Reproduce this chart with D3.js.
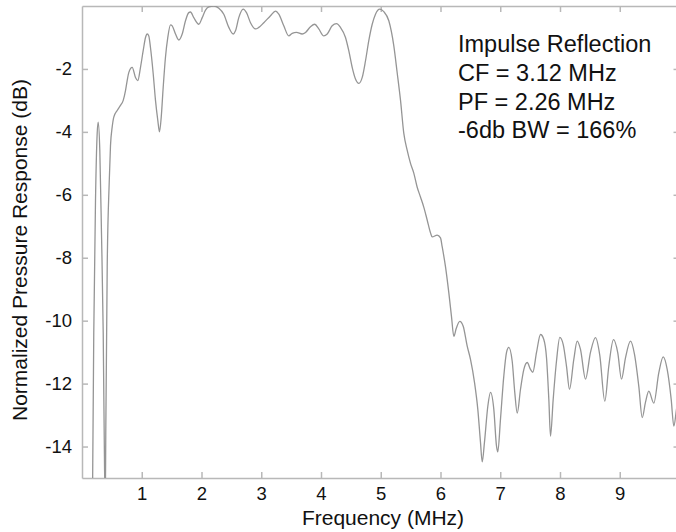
<!DOCTYPE html>
<html>
<head>
<meta charset="utf-8">
<script src="https://cdn.jsdelivr.net/npm/d3@7"></script>
<style>
  body { margin: 0; background: #fff; }
  svg { display: block; font-family: "Liberation Sans", Arial, sans-serif; }
  .axis path, .axis line { stroke: #b8b8b8; stroke-width: 1.5; }
  .axis text { fill: #111; font-size: 18.5px; font-family: "Liberation Sans", Arial, sans-serif; }
</style>
</head>
<body>
<div id="chart"></div>
<script>
// frequency (MHz) and normalized response (dB)
const freq = [0.175, 0.197, 0.226, 0.254, 0.271, 0.298, 0.326, 0.355, 0.377, 0.39, 0.398, 0.422, 0.455, 0.477,
  0.505, 0.532, 0.589, 0.644, 0.690, 0.728, 0.756, 0.784, 0.840, 0.895, 0.934, 0.979, 1.024, 1.063, 1.091, 1.118,
  1.146, 1.192, 1.230, 1.269, 1.297, 1.326, 1.359, 1.397, 1.436, 1.481, 1.510, 1.565, 1.620, 1.677, 1.732, 1.787,
  1.816, 1.871, 1.955, 2.012, 2.067, 2.122, 2.206, 2.290, 2.373, 2.457, 2.531, 2.569, 2.624, 2.698, 2.753, 2.820,
  2.904, 2.959, 3.043, 3.155, 3.238, 3.294, 3.377, 3.461, 3.518, 3.590, 3.685, 3.741, 3.824, 3.896, 3.963, 4.047,
  4.104, 4.187, 4.259, 4.326, 4.410, 4.465, 4.522, 4.577, 4.633, 4.690, 4.745, 4.800, 4.857, 4.912, 4.984, 5.051,
  5.135, 5.218, 5.275, 5.331, 5.386, 5.443, 5.498, 5.553, 5.610, 5.665, 5.720, 5.777, 5.833, 5.861, 5.945, 6.000,
  6.028, 6.084, 6.139, 6.184, 6.223, 6.263, 6.323, 6.380, 6.447, 6.502, 6.569, 6.624, 6.669, 6.698, 6.736, 6.792,
  6.837, 6.892, 6.937, 6.959, 7.004, 7.059, 7.105, 7.143, 7.200, 7.243, 7.284, 7.339, 7.395, 7.451, 7.506, 7.545,
  7.607, 7.674, 7.729, 7.774, 7.813, 7.841, 7.886, 7.941, 7.997, 8.054, 8.109, 8.159, 8.231, 8.288, 8.343, 8.427,
  8.510, 8.594, 8.666, 8.750, 8.817, 8.895, 8.967, 9.029, 9.096, 9.180, 9.247, 9.319, 9.376, 9.431, 9.486, 9.570,
  9.654, 9.727, 9.794, 9.861, 9.905, 9.950, 10.0];

const response = [-15.8, -10.38, -6.17, -4.05, -3.69, -4.59, -7.21, -10.38, -14.62, -15.8, -13.54, -8.29, -5.63, -4.43,
  -3.85, -3.53, -3.32, -3.16, -3.0, -2.69, -2.37, -2.11, -1.95, -2.27, -2.37, -1.95, -1.42, -1.0, -0.89, -0.95,
  -1.32, -2.16, -3.0, -3.64, -4.0, -3.53, -2.58, -1.63, -1.0, -0.60, -0.63, -0.89, -1.08, -0.89, -0.47, -0.21,
  -0.19, -0.37, -0.58, -0.37, -0.13, -0.03, 0.0, -0.07, -0.26, -0.68, -0.89, -0.79, -0.37, -0.10, -0.21, -0.53,
  -0.73, -0.68, -0.53, -0.31, -0.16, -0.26, -0.63, -0.95, -0.87, -0.84, -0.89, -0.84, -0.66, -0.58, -0.73, -0.95,
  -0.89, -0.63, -0.56, -0.68, -1.0, -1.42, -1.95, -2.32, -2.46, -2.27, -1.74, -1.10, -0.58, -0.26, -0.10, -0.18,
  -0.47, -1.26, -2.12, -3.0, -4.05, -4.59, -5.0, -5.31, -5.76, -6.07, -6.39, -6.80, -7.21, -7.34, -7.28, -7.37,
  -7.65, -8.29, -9.11, -9.87, -10.5, -10.25, -10.02, -10.18, -10.81, -11.23, -11.96, -12.81, -13.86, -14.49, -13.86, -12.72,
  -12.28, -12.81, -13.98, -14.17, -13.13, -11.77, -11.01, -10.85, -11.29, -12.28, -12.94, -12.18, -11.55, -11.33, -11.55, -11.64,
  -11.01, -10.44, -10.6, -11.17, -12.50, -13.67, -12.50, -11.29, -10.53, -10.76, -11.45, -12.18, -11.23, -10.65, -10.91, -11.86,
  -11.01, -10.54, -11.10, -12.56, -11.44, -10.6, -11.02, -11.86, -11.18, -10.65, -11.07, -12.09, -13.08, -12.59, -12.24, -12.62,
  -11.65, -11.15, -11.55, -12.50, -13.35, -12.81, -12.2];

const xTicks = [1, 2, 3, 4, 5, 6, 7, 8, 9];
const yTicks = [-2, -4, -6, -8, -10, -12, -14];
const notes = ["Impulse Reflection", "CF = 3.12 MHz", "PF = 2.26 MHz", "-6db BW = 166%"];

const svgWidth = 676, svgHeight = 532;
const margin = {top: 6, left: 82, bottom: 54};
const width = 597.5;
const height = svgHeight - margin.top - margin.bottom;

const svg = d3.select('#chart')
    .append('svg')
    .attr('width', svgWidth)
    .attr('height', svgHeight);

const g = svg.append('g')
    .attr('transform', 'translate(' + margin.left + ',' + margin.top + ')');

// scales
const xScale = d3.scaleLinear().domain([0, 10]).range([0, width]);
const yScale = d3.scaleLinear().domain([-15, 0]).range([height, 0]);

// axes, ticks pointing inward on all four sides (plain hyphen for minus)
g.append('g')
    .attr('class', 'axis')
    .attr('transform', `translate(0,${height})`)
    .call(d3.axisBottom(xScale).tickValues(xTicks).tickSizeInner(-6).tickSizeOuter(0).tickPadding(9).tickFormat(d => String(d)));

g.append('g')
    .attr('class', 'axis')
    .call(d3.axisTop(xScale).tickValues(xTicks).tickSizeInner(-6).tickSizeOuter(0).tickFormat(''));

g.append('g')
    .attr('class', 'axis')
    .call(d3.axisLeft(yScale).tickValues(yTicks).tickSizeInner(-6).tickSizeOuter(0).tickPadding(10).tickFormat(d => String(d)));

g.append('g')
    .attr('class', 'axis')
    .attr('transform', `translate(${width},0)`)
    .call(d3.axisRight(yScale).tickValues(yTicks).tickSizeInner(-6).tickSizeOuter(0).tickFormat(''));

// curve
g.append('clipPath')
    .attr('id', 'clip')
    .append('rect')
    .attr('width', width)
    .attr('height', height);

const line = d3.line()
    .x((d, i) => xScale(freq[i]))
    .y(d => yScale(d))
    .curve(d3.curveMonotoneX);

g.append('path')
    .datum(response)
    .attr('clip-path', 'url(#clip)')
    .attr('fill', 'none')
    .attr('stroke', '#959595')
    .attr('stroke-width', 1.3)
    .attr('d', line);

// annotation
g.append('g')
    .selectAll('text')
    .data(notes)
    .join('text')
    .attr('x', 376)
    .attr('y', (d, i) => 46 + i * 28.8)
    .attr('font-size', '23.5px')
    .attr('fill', '#111')
    .text(d => d);

// axis labels
svg.append('text')
    .attr('x', 383)
    .attr('y', 525)
    .attr('text-anchor', 'middle')
    .attr('font-size', '21px')
    .attr('fill', '#111')
    .text('Frequency (MHz)');

svg.append('text')
    .attr('transform', 'translate(27,250) rotate(-90)')
    .attr('text-anchor', 'middle')
    .attr('font-size', '21px')
    .attr('fill', '#111')
    .text('Normalized Pressure Response (dB)');
</script>
</body>
</html>
